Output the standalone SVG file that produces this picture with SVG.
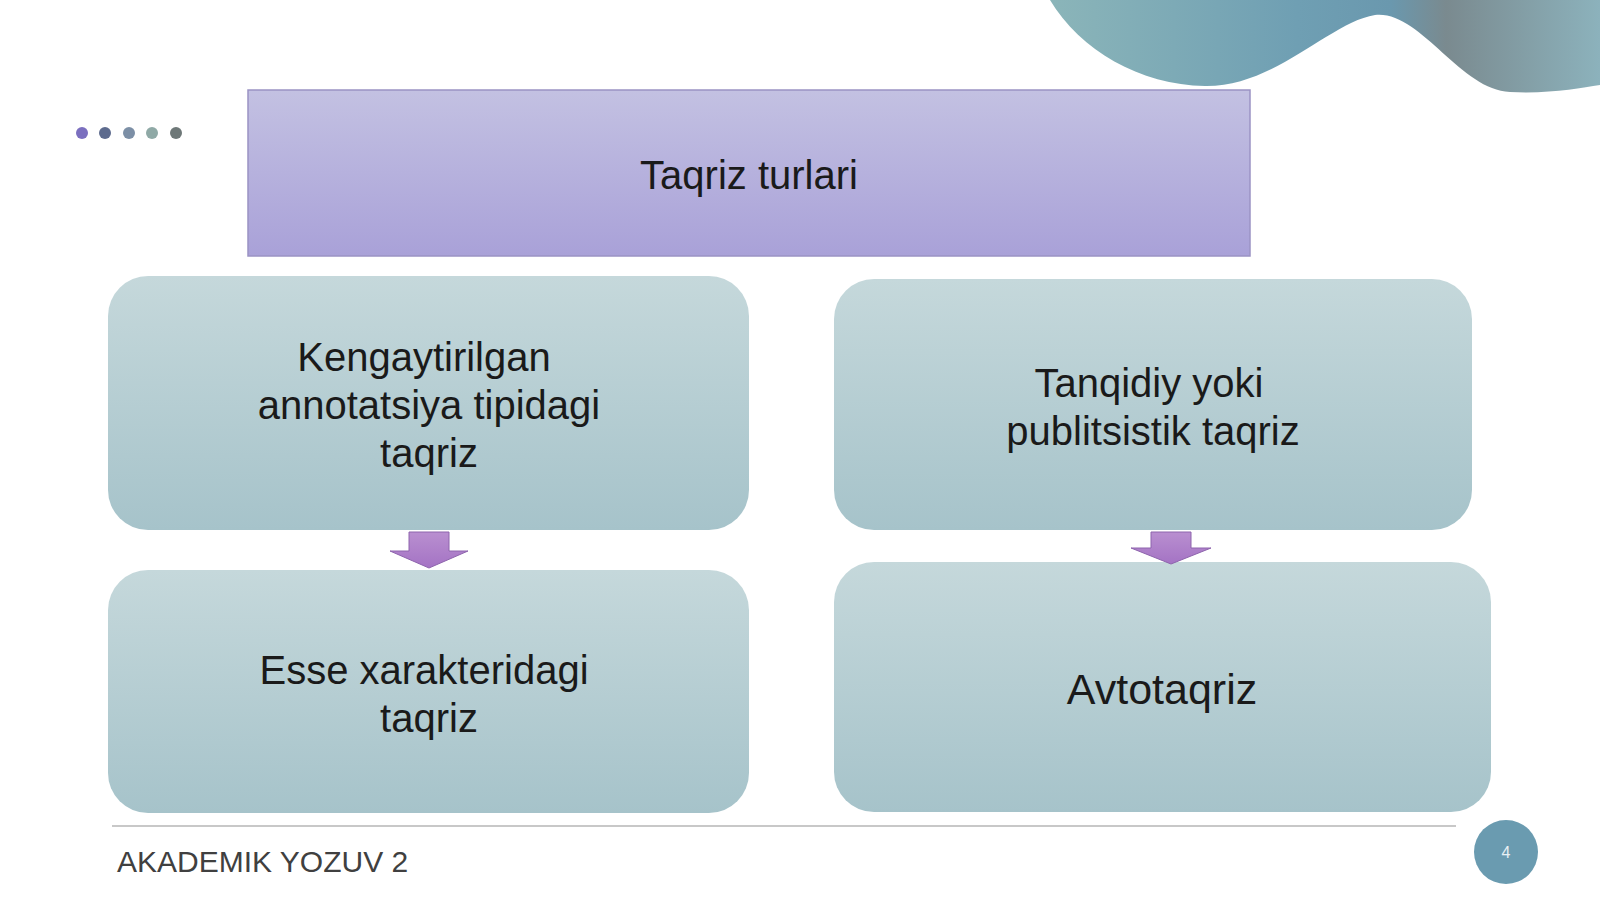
<svg xmlns="http://www.w3.org/2000/svg" width="1600" height="899" viewBox="0 0 1600 899">
<defs>
<linearGradient id="boxg" x1="0" y1="0" x2="0" y2="1">
<stop offset="0" stop-color="#c5d8db"/>
<stop offset="1" stop-color="#a6c3ca"/>
</linearGradient>
<linearGradient id="titleg" x1="0" y1="0" x2="0" y2="1">
<stop offset="0" stop-color="#c3c1e2"/>
<stop offset="1" stop-color="#a9a1d8"/>
</linearGradient>
<linearGradient id="arrg" x1="0" y1="0" x2="0" y2="1">
<stop offset="0" stop-color="#b98fd0"/>
<stop offset="1" stop-color="#a473c4"/>
</linearGradient>
<linearGradient id="waveg" x1="0" y1="0" x2="1" y2="0">
<stop offset="0" stop-color="#8bb5b9"/>
<stop offset="0.45" stop-color="#6f9fb3"/>
<stop offset="0.62" stop-color="#6a98ae"/>
<stop offset="0.72" stop-color="#7a8a8f"/>
<stop offset="1" stop-color="#8cb2bc"/>
</linearGradient>
<style>
.box{fill:url(#boxg);}
.lbl{font-family:"Liberation Sans",Arial,sans-serif;font-size:40px;fill:#1a1a1a;text-anchor:middle;}
.arrow{fill:url(#arrg);stroke:#8e64ad;stroke-width:1;}
</style>
</defs>
<rect width="1600" height="899" fill="#ffffff"/>
<path d="M1050,0 C1080,50 1140,85 1205,86 C1275,87 1330,22 1375,15 C1420,10 1460,90 1510,92 C1550,94 1580,88 1600,85 L1600,0 Z" fill="url(#waveg)"/>
<g id="dots">
<circle cx="82" cy="133" r="6" fill="#7b6fbf"/>
<circle cx="105" cy="133" r="6" fill="#5d6b8e"/>
<circle cx="129" cy="133" r="6" fill="#7c8fa6"/>
<circle cx="152" cy="133" r="6" fill="#8fa9a6"/>
<circle cx="176" cy="133" r="6" fill="#6e7878"/>
</g>
<g id="title">
<rect x="248" y="90" width="1002" height="166" fill="url(#titleg)" stroke="#9b93c4" stroke-width="1.5"/>
<text x="749" y="189" class="lbl">Taqriz turlari</text>
</g>
<g id="node1">
<rect class="box" x="108" y="276" width="641" height="254" rx="40"/>
<text class="lbl" x="424" y="371">Kengaytirilgan</text>
<text class="lbl" x="429" y="419">annotatsiya tipidagi</text>
<text class="lbl" x="429" y="467">taqriz</text>
</g>
<g id="node2">
<rect class="box" x="834" y="279" width="638" height="251" rx="40"/>
<text class="lbl" x="1149" y="397">Tanqidiy yoki</text>
<text class="lbl" x="1153" y="445">publitsistik taqriz</text>
</g>
<g id="node3">
<rect class="box" x="108" y="570" width="641" height="243" rx="40"/>
<text class="lbl" x="424" y="684">Esse xarakteridagi</text>
<text class="lbl" x="429" y="732">taqriz</text>
</g>
<g id="node4">
<rect class="box" x="834" y="562" width="657" height="250" rx="40"/>
<text class="lbl" x="1162" y="704" style="font-size:43px">Avtotaqriz</text>
</g>
<g id="connectors">
<path class="arrow" d="M409,532 H449 V551 H468 L429,568 L390,551 H409 Z"/>
<path class="arrow" d="M1151,532 H1191 V548 H1211 L1171,564 L1131,548 H1151 Z"/>
</g>
<line x1="112" y1="826" x2="1456" y2="826" stroke="#c8c8c8" stroke-width="2"/>
<text x="117" y="872" font-family="Liberation Sans, Arial, sans-serif" font-size="30" fill="#404040">AKADEMIK YOZUV 2</text>
<circle cx="1506" cy="852" r="32" fill="#6a9bb0"/>
<text x="1506" y="858" font-family="Liberation Sans, Arial, sans-serif" font-size="16" fill="#e8f0f4" text-anchor="middle">4</text>
</svg>
